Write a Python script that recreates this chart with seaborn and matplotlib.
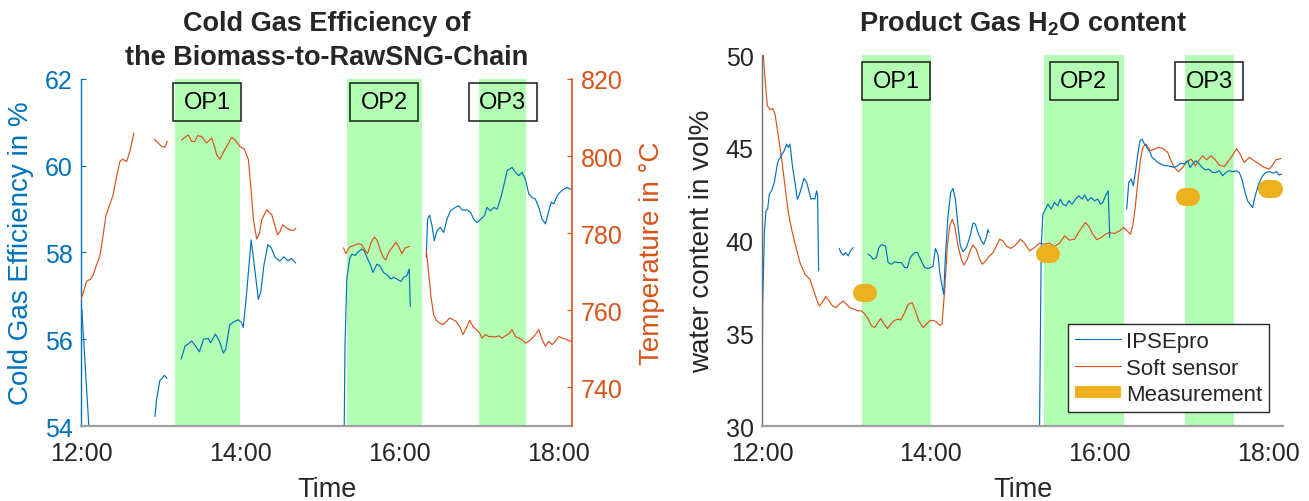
import numpy as np
import pandas as pd
import matplotlib
matplotlib.use("Agg")
import matplotlib.pyplot as plt
import seaborn as sns
from matplotlib.lines import Line2D
from matplotlib.patches import Rectangle

nan = np.nan

# ---------------- data (time in hours after 12:00; NaN = gap) ----------------
cge_t = [0.01, 0.105, nan,
         0.93, 0.95, 0.99, 1.05, 1.08, nan,
         1.26, 1.31, 1.35, 1.39, 1.43, 1.49, 1.54, 1.60, 1.63, 1.69, 1.74, 1.79, 1.82, 1.87,
         1.92, 1.98, 2.02, 2.04, 2.08, 2.14, 2.18, 2.23, 2.26, 2.30, 2.35, 2.39, 2.44, 2.50,
         2.55, 2.60, 2.65, 2.70, nan,
         3.31, 3.32, 3.343, 3.377, 3.406, 3.448, 3.477, 3.532, 3.562, 3.595, 3.637, 3.671,
         3.721, 3.755, 3.805, 3.856, 3.898, 3.931, 3.973, 4.023, 4.057, 4.099, 4.128, 4.141, nan,
         4.342, 4.359, 4.385, 4.414, 4.443, 4.477, 4.519, 4.561, 4.603, 4.645, 4.708, 4.750,
         4.792, 4.855, 4.897, 4.939, 4.981, 5.023, 5.073, 5.107, 5.149, 5.191, 5.233, 5.275,
         5.317, 5.359, 5.422, 5.463, 5.505, 5.547, 5.589, 5.631, 5.673, 5.715, 5.757, 5.799,
         5.841, 5.883, 5.913, 5.946, 5.988, 6.030, 6.072, 6.114, 6.156, 6.186]
cge_v = [56.7, 53.8, nan,
         54.22, 54.6, 55.04, 55.17, 55.1, nan,
         55.54, 55.85, 55.89, 55.96, 55.87, 55.71, 56.0, 56.02, 55.92, 56.12, 55.96, 55.68, 55.77, 56.33,
         56.4, 56.45, 56.38, 56.27, 57.0, 58.29, 57.7, 56.92, 57.08, 57.7, 58.18, 58.12, 57.89, 57.8,
         57.9, 57.81, 57.86, 57.76, nan,
         53.9, 55.85, 57.39, 57.85, 57.96, 57.93, 58.0, 58.08, 58.04, 57.89, 57.73, 57.54,
         57.73, 57.7, 57.54, 57.47, 57.39, 57.43, 57.39, 57.33, 57.43, 57.47, 57.62, 56.76, nan,
         57.89, 58.77, 58.86, 58.62, 58.27, 58.50, 58.58, 58.46, 58.77, 58.96, 59.04, 59.08,
         58.98, 58.98, 58.93, 58.77, 58.69, 58.76, 58.85, 59.04, 58.96, 59.04, 59.0, 59.23,
         59.54, 59.89, 59.96, 59.85, 59.77, 59.85, 59.69, 59.35, 59.27, 59.23, 59.04, 58.77,
         58.66, 58.96, 59.16, 59.12, 59.31, 59.40, 59.46, 59.50, 59.46, 59.48]

temp_t = [0.0, 0.027, 0.069, 0.119, 0.153, 0.195, 0.237, 0.270, 0.312, 0.354, 0.405, 0.447,
          0.489, 0.522, 0.573, 0.615, 0.665, nan,
          0.921, 0.971, 1.013, 1.055, 1.085, nan,
          1.265, 1.320, 1.349, 1.391, 1.433, 1.467, 1.517, 1.580, 1.643, 1.685, 1.706, 1.748,
          1.790, 1.832, 1.895, 1.937, 2.000, 2.055, 2.105, 2.139, 2.168, 2.210, 2.244, 2.273,
          2.336, 2.399, 2.441, 2.471, 2.504, 2.538, 2.588, 2.630, 2.672, 2.701, nan,
          3.301, 3.331, 3.377, 3.427, 3.490, 3.532, 3.566, 3.604, 3.646, 3.688, 3.721, 3.763,
          3.805, 3.834, 3.868, 3.910, 3.960, 3.994, 4.036, 4.078, 4.132, nan,
          4.342, 4.372, 4.401, 4.435, 4.468, 4.510, 4.552, 4.594, 4.636, 4.678, 4.720, 4.762,
          4.804, 4.846, 4.888, 4.930, 4.972, 5.014, 5.044, 5.086, 5.128, 5.170, 5.212, 5.254,
          5.296, 5.338, 5.380, 5.422, 5.463, 5.505, 5.547, 5.589, 5.631, 5.673, 5.715, 5.757,
          5.799, 5.841, 5.883, 5.925, 5.967, 6.009, 6.051, 6.093, 6.135, 6.186]
temp_v = [762.9, 764.5, 767.5, 768.1, 769.2, 771.8, 774.0, 778.3, 784.4, 787.0, 790.0, 794.7,
          798.6, 799.2, 798.6, 801.2, 806.0, nan,
          804.4, 803.4, 802.5, 802.3, 803.8, nan,
          804.2, 805.1, 805.5, 803.8, 803.8, 805.3, 805.1, 803.4, 804.7, 802.1, 800.4, 799.2,
          801.0, 802.5, 804.9, 804.2, 802.5, 801.8, 799.1, 791.3, 783.5, 778.5, 779.9, 783.5,
          786.1, 784.8, 781.8, 779.6, 780.5, 782.2, 781.3, 780.9, 780.7, 781.3, nan,
          776.2, 774.7, 776.4, 776.8, 777.3, 777.0, 775.7, 774.7, 777.5, 779.0, 778.3, 775.7,
          773.6, 773.1, 775.0, 776.2, 777.6, 776.6, 774.7, 776.2, 776.6, nan,
          775.7, 769.7, 763.6, 758.9, 757.4, 756.7, 756.3, 757.1, 758.0, 757.6, 757.1, 755.8,
          753.7, 755.4, 757.4, 755.8, 755.0, 754.1, 752.8, 753.7, 753.2, 753.2, 753.1, 753.4,
          752.8, 753.4, 753.9, 755.0, 753.2, 752.8, 752.4, 751.5, 752.0, 752.8, 753.7, 755.0,
          752.4, 750.7, 752.0, 751.1, 752.0, 753.2, 752.8, 752.6, 752.1, 752.0]

ipse_t = [0.0, 0.008, 0.028, 0.047, 0.067, 0.087, 0.114, 0.146, 0.185, 0.225, 0.264, 0.292,
          0.312, 0.331, 0.363, 0.391, 0.418, 0.438, 0.469, 0.497, 0.529, 0.556, 0.580, 0.607,
          0.627, 0.647, 0.659, 0.671, nan,
          0.915, 0.935, 0.963, 0.990, 1.022, 1.049, 1.081, nan,
          1.258, 1.286, 1.318, 1.357, 1.385, 1.416, 1.464, 1.495, 1.535, 1.574, 1.613, 1.653,
          1.692, 1.724, 1.751, 1.779, 1.811, 1.842, 1.870, 1.897, 1.929, 1.968, 2.000, 2.028,
          2.055, 2.087, 2.107, 2.134, 2.154, 2.174, 2.205, 2.237, 2.264, 2.292, 2.323, 2.351,
          2.383, 2.422, 2.462, 2.501, 2.529, 2.560, 2.600, 2.627, 2.659, 2.678, 2.690, nan,
          3.290, 3.310, 3.329, 3.361, 3.389, 3.428, 3.467, 3.507, 3.535, 3.566, 3.606, 3.637,
          3.677, 3.716, 3.755, 3.795, 3.822, 3.862, 3.901, 3.941, 3.980, 4.012, 4.039, 4.071,
          4.103, 4.122, nan,
          4.323, 4.347, 4.375, 4.402, 4.426, 4.454, 4.481, 4.505, 4.533, 4.552, 4.572, 4.600,
          4.623, 4.651, 4.690, 4.730, 4.769, 4.809, 4.848, 4.888, 4.927, 4.966, 5.006, 5.045,
          5.073, 5.105, 5.144, 5.175, 5.215, 5.254, 5.294, 5.341, 5.381, 5.420, 5.460, 5.499,
          5.538, 5.578, 5.617, 5.657, 5.688, 5.716, 5.755, 5.783, 5.815, 5.846, 5.886, 5.933,
          5.972, 6.020, 6.059, 6.099, 6.130, 6.158]
ipse_v = [30.0, 36.48, 40.43, 41.60, 41.69, 42.50, 42.68, 43.13, 44.21, 44.57, 44.84, 45.20,
          45.02, 45.20, 43.94, 43.13, 42.23, 42.41, 42.86, 43.35, 43.13, 42.68, 42.23, 42.27,
          42.23, 42.68, 42.41, 38.36, nan,
          39.57, 39.35, 39.21, 39.35, 39.17, 39.44, 39.62, nan,
          39.26, 39.17, 38.99, 39.08, 39.62, 39.77, 39.71, 38.81, 38.72, 38.85, 38.81, 38.81,
          38.54, 38.54, 38.99, 39.21, 39.35, 39.35, 39.08, 38.81, 38.54, 38.49, 38.54, 38.63,
          39.57, 39.21, 38.27, 37.55, 37.10, 39.17, 41.33, 42.59, 42.81, 42.23, 40.79, 39.71,
          39.39, 39.62, 40.16, 40.94, 40.88, 40.43, 39.98, 39.80, 40.16, 40.58, 40.43, nan,
          30.0, 39.71, 41.42, 41.69, 41.96, 41.69, 42.05, 41.87, 42.23, 41.96, 41.87, 42.14,
          41.96, 42.23, 42.41, 42.23, 42.45, 42.14, 42.32, 42.14, 42.23, 41.96, 42.05, 42.41,
          42.68, 40.16, nan,
          41.69, 43.13, 43.31, 42.95, 43.67, 44.66, 45.38, 45.47, 45.20, 45.14, 44.93, 44.75,
          44.48, 44.39, 44.21, 44.12, 44.03, 44.03, 43.99, 43.94, 44.03, 44.17, 44.12, 44.30,
          43.94, 44.12, 44.30, 44.17, 43.94, 43.81, 43.85, 43.67, 43.67, 43.76, 43.49, 43.67,
          43.76, 43.71, 43.76, 43.67, 43.31, 42.77, 42.14, 41.96, 41.78, 42.41, 43.04, 43.49,
          43.67, 43.71, 43.63, 43.71, 43.53, 43.58]

soft_t = [0.016, 0.036, 0.063, 0.095, 0.126, 0.154, 0.193, 0.233, 0.272, 0.312, 0.351, 0.398,
          0.450, 0.509, 0.568, 0.607, 0.647, 0.679, 0.714, 0.757, 0.797, 0.836, 0.876, 0.915,
          0.963, 1.002, 1.041, 1.093, 1.140, 1.179, 1.219, 1.258, 1.298, 1.337, 1.377, 1.408,
          1.448, 1.487, 1.527, 1.566, 1.606, 1.645, 1.692, 1.732, 1.779, 1.818, 1.858, 1.909,
          1.949, 1.988, 2.028, 2.067, 2.107, 2.134, 2.166, 2.197, 2.225, 2.256, 2.284, 2.323,
          2.363, 2.394, 2.434, 2.473, 2.501, 2.540, 2.580, 2.611, 2.651, 2.690, 2.738, 2.777,
          2.817, 2.856, 2.895, 2.947, 2.994, 3.034, 3.061, 3.112, 3.172, 3.231, 3.290, 3.349,
          3.408, 3.467, 3.527, 3.586, 3.645, 3.704, 3.763, 3.834, 3.882, 3.921, 3.968, 4.020,
          4.071, 4.118, 4.178, 4.237, 4.288, 4.327, 4.367, 4.394, 4.422, 4.454, 4.481, 4.513,
          4.552, 4.600, 4.651, 4.702, 4.749, 4.809, 4.848, 4.888, 4.939, 4.986, 5.034, 5.085,
          5.136, 5.183, 5.223, 5.270, 5.321, 5.373, 5.420, 5.479, 5.531, 5.578, 5.625, 5.665,
          5.716, 5.775, 5.834, 5.894, 5.953, 6.012, 6.051, 6.091, 6.150]
soft_v = [50.0, 48.71, 47.27, 47.05, 47.12, 46.82, 45.65, 44.39, 42.95, 41.51, 40.61, 39.71,
          38.81, 38.18, 37.91, 37.37, 36.83, 36.47, 36.65, 36.98, 36.74, 36.47, 36.38, 36.56,
          36.74, 36.56, 36.38, 36.29, 36.21, 36.21, 36.03, 35.76, 35.40, 35.31, 35.61, 35.79,
          35.49, 35.25, 35.49, 35.67, 35.76, 35.72, 36.12, 36.56, 36.65, 36.21, 35.67, 35.31,
          35.49, 35.67, 35.70, 35.61, 35.43, 35.49, 37.37, 39.71, 40.79, 41.15, 40.79, 39.71,
          38.99, 38.67, 38.99, 39.53, 39.75, 39.53, 38.99, 38.72, 38.90, 39.14, 39.35, 39.71,
          40.07, 39.98, 39.71, 39.57, 39.71, 39.89, 40.07, 39.86, 39.44, 39.62, 39.86, 39.80,
          39.86, 39.68, 39.86, 40.25, 40.02, 40.07, 40.52, 40.97, 40.70, 40.34, 40.04, 40.16,
          40.34, 40.43, 40.38, 40.52, 40.70, 40.52, 40.34, 40.79, 41.69, 43.13, 44.21, 45.02,
          45.20, 44.84, 44.93, 45.02, 44.96, 44.75, 44.30, 43.94, 43.71, 43.94, 44.24, 44.39,
          44.03, 44.35, 44.57, 44.35, 44.57, 44.35, 44.06, 43.99, 44.30, 44.60, 44.96, 44.66,
          44.21, 44.48, 44.30, 44.12, 43.94, 43.85, 44.06, 44.35, 44.42]

meas_t = [1.22, 3.39, 5.05, 6.03]
meas_v = [37.16, 39.26, 42.37, 42.77]

op_names = ["OP1", "OP2", "OP3"]
op_start = [1.18, 3.34, 5.01]
op_end = [2.00, 4.29, 5.595]

xtick_hours = [0, 2, 4, 6]
xtick_labels = ["12:00", "14:00", "16:00", "18:00"]

# ---------------- style ----------------
BLUE = "#0072BD"
ORANGE = "#D95319"
YELLOW = "#EDB120"
GREEN = "#B3FFB3"
TXT = "#262626"

sns.set_style("white")
plt.rcParams["font.family"] = ["Liberation Sans", "DejaVu Sans"]
plt.rcParams["mathtext.fontset"] = "custom"
plt.rcParams["mathtext.rm"] = "Liberation Sans"
plt.rcParams["mathtext.bf"] = "Liberation Sans:bold"


def frame(t, v):
    t = np.asarray(t, float)
    v = np.asarray(v, float)
    seg = np.cumsum(np.isnan(v))
    df = pd.DataFrame({"t": t, "v": v, "seg": seg}).dropna()
    return df


fig = plt.figure(figsize=(13.09, 5.02), dpi=100)
ax1 = fig.add_axes([0.06188, 0.14940, 0.37540, 0.69124])
ax1r = ax1.twinx()
ax2 = fig.add_axes([0.58212, 0.14940, 0.39832, 0.73904])

XMAX = 6.18
LW = 0.85

# spans
for ax in (ax1, ax2):
    for s, e in zip(op_start, op_end):
        ax.axvspan(s, e, color=GREEN, lw=0, zorder=0)

# left panel
sns.lineplot(data=frame(cge_t, cge_v), x="t", y="v", units="seg", estimator=None,
             sort=False, color=BLUE, lw=LW, ax=ax1, legend=False)
sns.lineplot(data=frame(temp_t, temp_v), x="t", y="v", units="seg", estimator=None,
             sort=False, color=ORANGE, lw=LW, ax=ax1r, legend=False)

# right panel
sns.lineplot(data=frame(soft_t, soft_v), x="t", y="v", units="seg", estimator=None,
             sort=False, color=ORANGE, lw=LW, ax=ax2, legend=False)
sns.lineplot(data=frame(ipse_t, ipse_v), x="t", y="v", units="seg", estimator=None,
             sort=False, color=BLUE, lw=LW, ax=ax2, legend=False)
half = 0.04
mdf = pd.DataFrame({
    "t": np.ravel([[m - half, m + half] for m in meas_t]),
    "v": np.repeat(meas_v, 2),
    "seg": np.repeat(np.arange(len(meas_t)), 2),
})
sns.lineplot(data=mdf, x="t", y="v", units="seg", estimator=None, sort=False,
             color=YELLOW, lw=13, solid_capstyle="round", ax=ax2, legend=False, zorder=4)

# axes formatting
ax1.set_ylim(54, 62)
ax1.set_yticks([54, 56, 58, 60, 62])
ax1r.set_ylim(730, 820)
ax1r.set_yticks([740, 760, 780, 800, 820])
ax2.set_ylim(30, 50)
ax2.set_yticks([30, 35, 40, 45, 50])

for ax in (ax1, ax2):
    ax.set_xlim(0, XMAX)
    ax.set_xticks(xtick_hours)
    ax.set_xticklabels(xtick_labels)
    ax.tick_params(axis="x", direction="in", length=4.5, width=0.8, color=TXT,
                   labelcolor=TXT, labelsize=18, pad=11)
    ax.set_xlabel("Time", fontsize=19.5, color=TXT, labelpad=8)
    ax.spines["top"].set_visible(False)
    ax.spines["right"].set_visible(False)
    ax.spines["bottom"].set_color("#A0A0A0")
    ax.spines["bottom"].set_linewidth(1.6)

ax1r.spines["top"].set_visible(False)
ax1r.spines["left"].set_visible(False)
ax1r.spines["bottom"].set_visible(False)
ax1r.spines["right"].set_color(ORANGE)
ax1r.spines["right"].set_linewidth(1.2)
ax1.spines["left"].set_color(BLUE)
ax1.spines["left"].set_linewidth(1.0)
ax2.spines["left"].set_color("#707070")
ax2.spines["left"].set_linewidth(1.0)

ax1.tick_params(axis="y", direction="in", length=3.5, color=BLUE, labelcolor=BLUE,
                labelsize=18, pad=6)
ax1r.tick_params(axis="y", direction="in", length=3.5, color=ORANGE, labelcolor=ORANGE,
                 labelsize=18, pad=6)
ax2.tick_params(axis="y", direction="in", length=3.5, color=TXT, labelcolor=TXT,
                labelsize=18, pad=6)

ax1.set_ylabel("Cold Gas Efficiency in %", color=BLUE, fontsize=20, labelpad=8)
ax1r.set_ylabel("Temperature in °C", color=ORANGE, fontsize=20, labelpad=12)
ax2.set_ylabel("water content in vol%", color=TXT, fontsize=20, labelpad=8)

# OP annotation boxes
def op_boxes(ax, yfrac, wpx, hfrac):
    ppu = ax.get_position().width * fig.get_figwidth() * fig.dpi / XMAX
    w = wpx / ppu
    for name, s, e in zip(op_names, op_start, op_end):
        c = 0.5 * (s + e)
        ax.add_patch(Rectangle((c - w / 2, yfrac - hfrac / 2), w, hfrac,
                               transform=ax.get_xaxis_transform(), fill=False,
                               ec="#1a1a1a", lw=1.1, zorder=6, clip_on=False))
        ax.text(c, yfrac, name, transform=ax.get_xaxis_transform(), ha="center",
                va="center", fontsize=17, color="black", zorder=7)

op_boxes(ax1r, 0.934, 68, 38 / 347)
op_boxes(ax2, 0.9286, 68, 38 / 371)

# legend
handles = [Line2D([], [], color=BLUE, lw=LW),
           Line2D([], [], color=ORANGE, lw=LW),
           Line2D([], [], color=YELLOW, lw=8.5, solid_capstyle="butt")]
leg = ax2.legend(handles, ["IPSEpro", "Soft sensor", "Measurement"], loc="lower right",
                 bbox_to_anchor=(0.972, 0.038), borderaxespad=0, fontsize=16,
                 frameon=True, fancybox=False, framealpha=1, edgecolor=TXT,
                 handlelength=2.1, handletextpad=0.2, labelspacing=0.25, borderpad=0.3)
leg.get_frame().set_linewidth(1.0)
leg.set_zorder(10)

# titles
fig.text((81 + 572.4) / 2 / 1309, 1 - 41 / 502,
         "Cold Gas Efficiency of\nthe Biomass-to-RawSNG-Chain",
         ha="center", va="center", fontsize=19.5, fontweight="bold", linespacing=1.38)
fig.text((762 + 1283.4) / 2 / 1309, 1 - 31.5 / 502,
         r"Product Gas H$_\mathbf{2}$O content",
         ha="center", va="baseline", fontsize=19.5, fontweight="bold")

fig.savefig("out.png", dpi=100)
